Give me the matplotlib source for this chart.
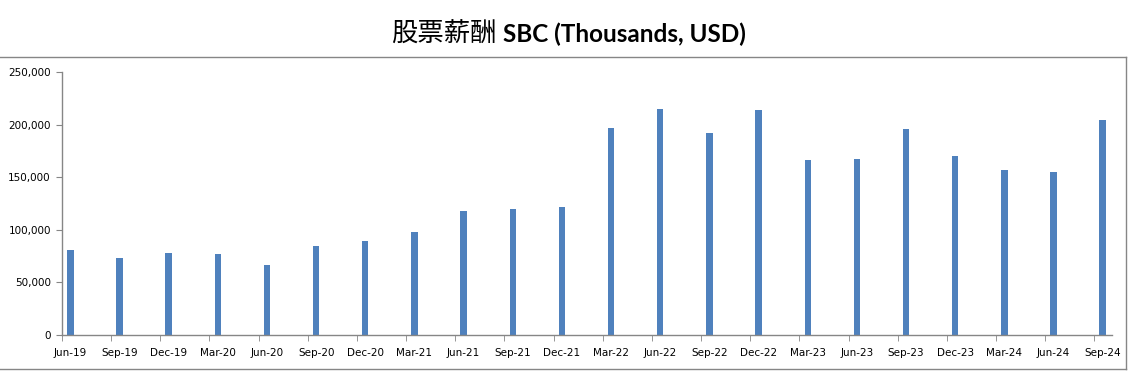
import numpy as np
import matplotlib
matplotlib.use("Agg")
import matplotlib.pyplot as plt
from matplotlib.lines import Line2D
from matplotlib.ticker import FuncFormatter

# Quarterly stock-based compensation, thousands of USD
quarters = ["Jun-19", "Sep-19", "Dec-19", "Mar-20", "Jun-20", "Sep-20", "Dec-20",
            "Mar-21", "Jun-21", "Sep-21", "Dec-21", "Mar-22", "Jun-22", "Sep-22",
            "Dec-22", "Mar-23", "Jun-23", "Sep-23", "Dec-23", "Mar-24", "Jun-24",
            "Sep-24"]
sbc = [80500, 72900, 78000, 76700, 66300, 84300, 89000,
       97500, 117400, 119300, 121200, 196800, 214800, 192000,
       213900, 166000, 167600, 196000, 170500, 157200, 155300,
       204600]

yticks = [0, 50000, 100000, 150000, 200000, 250000]

bar_color = "#4F81BD"
axis_gray = "#868686"

fig = plt.figure(figsize=(11.33, 3.75), dpi=100)
ax = fig.add_axes([62 / 1133, 40 / 375, 1050 / 1133, 263 / 375])

x = np.arange(len(quarters))
ax.bar(x, sbc, width=0.13, color=bar_color, zorder=2)

# tick marks sit a little left of each bar, labels are centred on the bars
offset = 0.17
ax.set_xlim(-offset, len(quarters) - 1 + 0.19)
ax.set_xticks(x)
ax.set_xticklabels(quarters)
ax.tick_params(axis="x", which="major", length=0, pad=9, labelsize=7.5)
ax.set_xticks(x - offset, minor=True)
ax.tick_params(axis="x", which="minor", length=4, color=axis_gray, direction="out")

ax.set_ylim(0, 250000)
ax.set_yticks(yticks)
ax.yaxis.set_major_formatter(FuncFormatter(lambda v, p: f"{int(v):,}"))
ax.tick_params(axis="y", length=4, color=axis_gray, pad=4, labelsize=7.5)

for s in ["top", "right"]:
    ax.spines[s].set_visible(False)
for s in ["left", "bottom"]:
    ax.spines[s].set_color(axis_gray)
    ax.spines[s].set_linewidth(1.0)

# chart border
fig.add_artist(Line2D([0, 1126 / 1133], [1 - 57 / 375, 1 - 57 / 375], color=axis_gray, lw=1.0))
fig.add_artist(Line2D([0, 1126 / 1133], [1 - 369 / 375, 1 - 369 / 375], color=axis_gray, lw=1.0))
fig.add_artist(Line2D([1126 / 1133, 1126 / 1133], [1 - 57 / 375, 1 - 369 / 375], color=axis_gray, lw=1.0))

# title: CJK part + bold latin part
ty = 1 - 34 / 375
fig.text(497 / 1133, ty, "股票薪酬", ha="right", va="center", fontsize=19,
         family=["Noto Sans CJK SC", "DejaVu Sans"])
fig.text(503 / 1133, ty, "SBC (Thousands, USD)", ha="left", va="center", fontsize=17.5,
         fontweight="bold", family=["Lato", "DejaVu Sans"])

fig.savefig("out.png", dpi=100)
